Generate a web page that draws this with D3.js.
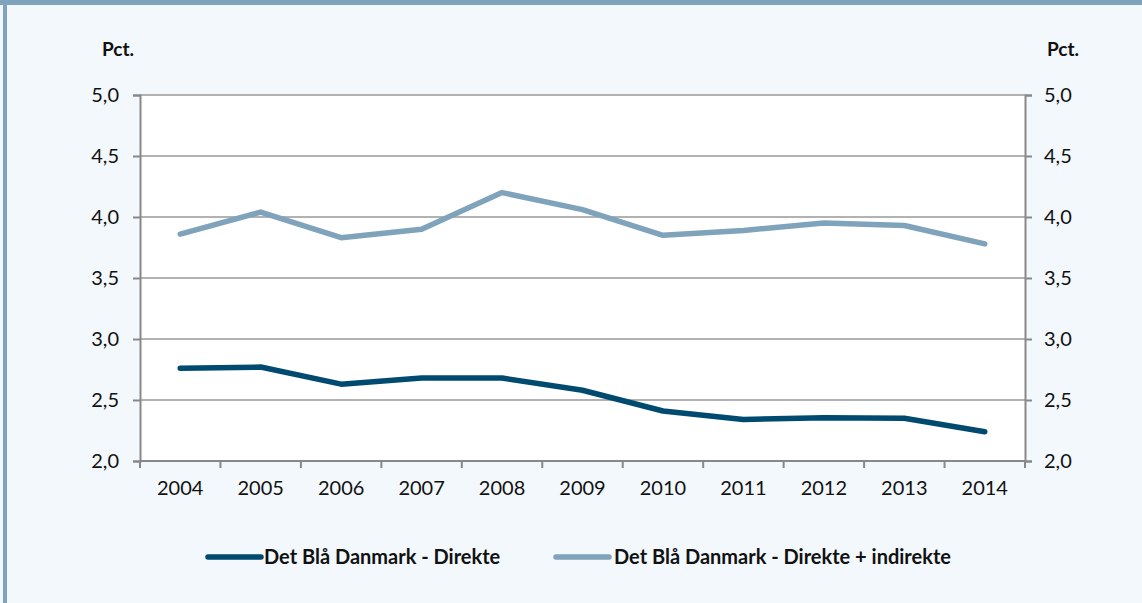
<!DOCTYPE html>
<html><head><meta charset="utf-8">
<script src="https://cdn.jsdelivr.net/npm/d3@7"></script>
<style>
html,body{margin:0;padding:0;background:#f3f8fc;}
svg{display:block;font-family:Lato,"Open Sans",sans-serif;}
</style></head>
<body>
<svg id="c" width="1142" height="603"></svg>
<script>
const years = ["2004","2005","2006","2007","2008","2009","2010","2011","2012","2013","2014"];
const direkte = [2.76,2.77,2.63,2.68,2.68,2.58,2.41,2.34,2.355,2.35,2.24];
const direkteIndirekte = [3.86,4.04,3.83,3.90,4.20,4.06,3.85,3.89,3.95,3.93,3.78];
const yTicks = [2.0,2.5,3.0,3.5,4.0,4.5,5.0];
const seriesNames = ["Det Blå Danmark - Direkte","Det Blå Danmark - Direkte + indirekte"];
const seriesColors = ["#004a70","#7fa3ba"];

const svg = d3.select("#c");
// frame
svg.append("rect").attr("x",0).attr("y",0).attr("width",1142).attr("height",603).attr("fill","#f3f8fc");
svg.append("rect").attr("x",0).attr("y",0).attr("width",1142).attr("height",5).attr("fill","#7fa3ba");
svg.append("rect").attr("x",3).attr("y",0).attr("width",4).attr("height",603).attr("fill","#7fa3ba");

const L=140, R=1025, T=95, B=461;
const x = d3.scaleBand().domain(years).range([L,R]);
const y = d3.scaleLinear().domain([2,5]).range([B,T]);
svg.append("rect").attr("x",L).attr("y",T).attr("width",R-L).attr("height",B-T).attr("fill","#fff");

// gridlines
svg.append("g").selectAll("line").data(yTicks.slice(1)).join("line")
  .attr("x1",L).attr("x2",R).attr("y1",d=>y(d)).attr("y2",d=>y(d))
  .attr("stroke","#999").attr("stroke-width",1.5);

const fmt = d=>d3.format(".1f")(d).replace(".",",");
const gl = svg.append("g").attr("transform",`translate(${L},0)`)
  .call(d3.axisLeft(y).tickValues(yTicks).tickFormat(fmt).tickSize(7).tickPadding(14));
const gr = svg.append("g").attr("transform",`translate(${R},0)`)
  .call(d3.axisRight(y).tickValues(yTicks).tickFormat(fmt).tickSize(7).tickPadding(12));
const gx = svg.append("g").attr("transform",`translate(0,${B})`)
  .call(d3.axisBottom(x).tickSize(0).tickPadding(20));
// x ticks at band boundaries
const bounds = years.map(d=>x(d)).concat([R]);
svg.append("g").selectAll("line").data(bounds).join("line")
  .attr("x1",d=>d).attr("x2",d=>d).attr("y1",B).attr("y2",B+7)
  .attr("stroke","#888").attr("stroke-width",2);
[gl,gr,gx].forEach(g=>{
  g.selectAll("path").attr("stroke","#888").attr("stroke-width",2);
  g.selectAll(".tick line").attr("stroke","#888").attr("stroke-width",2);
  g.selectAll("text").attr("font-size",20).attr("fill","#111").attr("font-family","Lato,'Open Sans',sans-serif");
});
gx.select(".domain").attr("d",`M${L},0H${R}`);

svg.append("text").attr("x",118).attr("y",56).attr("text-anchor","middle")
  .attr("font-weight","bold").attr("font-size",19).attr("fill","#111").text("Pct.");
svg.append("text").attr("x",1063).attr("y",56).attr("text-anchor","middle")
  .attr("font-weight","bold").attr("font-size",19).attr("fill","#111").text("Pct.");

const line = d3.line().x((d,i)=>x(years[i])+x.bandwidth()/2).y(d=>y(d));
[direkte,direkteIndirekte].forEach((s,k)=>{
  svg.append("path").attr("d",line(s)).attr("fill","none")
    .attr("stroke",seriesColors[k]).attr("stroke-width",5.5)
    .attr("stroke-linecap","round").attr("stroke-linejoin","round");
});

// legend
const leg = [{x:208,tx:264},{x:556,tx:614}];
leg.forEach((p,k)=>{
  svg.append("line").attr("x1",p.x).attr("x2",p.x+53).attr("y1",557).attr("y2",557)
    .attr("stroke",seriesColors[k]).attr("stroke-width",5.5).attr("stroke-linecap","round");
  svg.append("text").attr("x",p.tx).attr("y",564).attr("font-weight","bold")
    .attr("font-size",20).attr("fill","#111").text(seriesNames[k]);
});
</script>
</body></html>
